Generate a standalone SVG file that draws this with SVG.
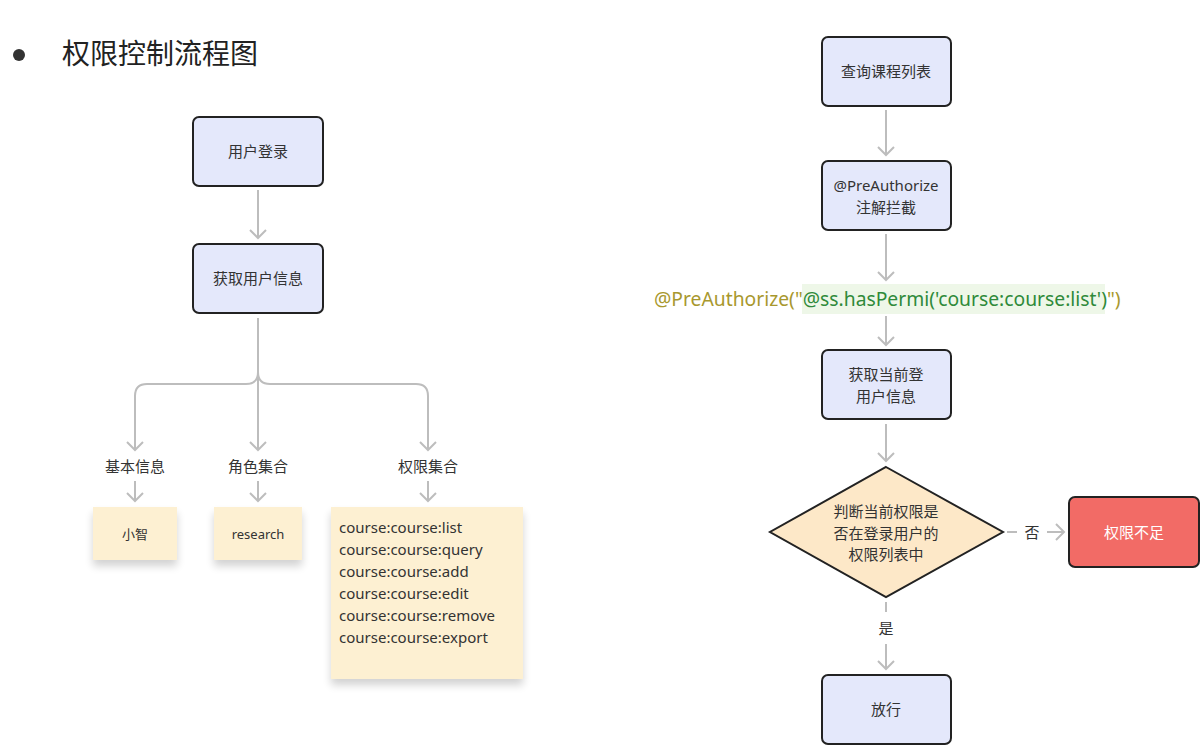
<svg xmlns="http://www.w3.org/2000/svg" width="1203" height="754" viewBox="0 0 1203 754">
<defs>
<style>
.t{font-family:"Noto Sans","Noto Sans CJK SC",sans-serif;fill:#333;font-size:15px;text-anchor:middle}
.node{fill:#e4e8fb;stroke:#222;stroke-width:2}
.note{fill:#fdf0d2}
.c{fill:none;stroke:#bdbdbd;stroke-width:2}
.d{fill:none;stroke:#bdbdbd;stroke-width:2;stroke-dasharray:10 6}
.code{font-family:"Noto Sans","Noto Sans CJK SC",sans-serif;font-size:19.3px}
</style>
<marker id="ar" viewBox="-1 -1 12 18" refX="9" refY="8" markerWidth="12" markerHeight="18" markerUnits="userSpaceOnUse" orient="auto">
<path d="M1,0 L9,8 L1,16" fill="none" stroke="#bdbdbd" stroke-width="2"/>
</marker>
<filter id="sh" x="-20%" y="-20%" width="140%" height="160%">
<feGaussianBlur in="SourceAlpha" stdDeviation="4"/>
<feOffset dx="0" dy="6" result="b"/>
<feComponentTransfer><feFuncA type="linear" slope="0.18"/></feComponentTransfer>
<feMerge><feMergeNode/><feMergeNode in="SourceGraphic"/></feMerge>
</filter>
</defs>
<rect width="1203" height="754" fill="#fff"/>

<g id="title">
<circle cx="19" cy="55" r="6" fill="#333"/>
<text x="62" y="64" style="font-family:'Noto Sans CJK SC','Noto Sans',sans-serif;font-size:28px;fill:#222">权限控制流程图</text>
</g>

<g id="connectors">
<line class="c" x1="258" y1="190" x2="258" y2="238" marker-end="url(#ar)"/>
<path class="c" d="M258,318 L258,450" marker-end="url(#ar)"/>
<path class="c" d="M258,372 Q258,384 246,384 L147,384 Q135,384 135,396 L135,450" marker-end="url(#ar)"/>
<path class="c" d="M258,372 Q258,384 270,384 L416,384 Q428,384 428,396 L428,450" marker-end="url(#ar)"/>
<line class="c" x1="135" y1="481" x2="135" y2="501" marker-end="url(#ar)"/>
<line class="c" x1="258" y1="481" x2="258" y2="501" marker-end="url(#ar)"/>
<line class="c" x1="428" y1="481" x2="428" y2="501" marker-end="url(#ar)"/>

<line class="c" x1="886" y1="110" x2="886" y2="155" marker-end="url(#ar)"/>
<line class="c" x1="886" y1="234" x2="886" y2="280" marker-end="url(#ar)"/>
<line class="c" x1="886" y1="316" x2="886" y2="345" marker-end="url(#ar)"/>
<line class="c" x1="886" y1="424" x2="886" y2="461" marker-end="url(#ar)"/>
<line class="d" x1="1007" y1="532" x2="1018" y2="532"/>
<text class="t" x="1032" y="538">否</text>
<line class="c" x1="1047" y1="532" x2="1064" y2="532" marker-end="url(#ar)"/>
<line class="d" x1="886" y1="602" x2="886" y2="614"/>
<text class="t" x="886" y="634">是</text>
<line class="c" x1="886" y1="644" x2="886" y2="669" marker-end="url(#ar)"/>
</g>

<g id="n-login">
<rect class="node" x="193" y="117" width="130" height="69" rx="6"/>
<text class="t" x="258" y="157">用户登录</text>
</g>
<g id="n-getuser">
<rect class="node" x="193" y="244" width="130" height="69" rx="6"/>
<text class="t" x="258" y="284">获取用户信息</text>
</g>
<g id="l-basic"><text class="t" x="135" y="472">基本信息</text></g>
<g id="l-role"><text class="t" x="258" y="472">角色集合</text></g>
<g id="l-perm"><text class="t" x="428" y="472">权限集合</text></g>
<g id="n-xiaozhi">
<rect class="note" x="93" y="507" width="84" height="53" filter="url(#sh)"/>
<text class="t" x="135" y="539" style="font-size:13px">小智</text>
</g>
<g id="n-research">
<rect class="note" x="214" y="507" width="88" height="53" filter="url(#sh)"/>
<text class="t" x="258" y="539" style="font-size:13px">research</text>
</g>
<g id="n-perms">
<rect class="note" x="331" y="507" width="192" height="172" filter="url(#sh)"/>
<text class="t" style="text-anchor:start;font-size:15px">
<tspan x="339" y="533">course:course:list</tspan>
<tspan x="339" y="555">course:course:query</tspan>
<tspan x="339" y="577">course:course:add</tspan>
<tspan x="339" y="599">course:course:edit</tspan>
<tspan x="339" y="621">course:course:remove</tspan>
<tspan x="339" y="643">course:course:export</tspan>
</text>
</g>

<g id="n-query">
<rect class="node" x="822" y="37" width="129" height="69" rx="6"/>
<text class="t" x="886" y="77">查询课程列表</text>
</g>
<g id="n-preauth">
<rect class="node" x="822" y="161" width="129" height="69" rx="6"/>
<text class="t" x="886" y="191">@PreAuthorize</text>
<text class="t" x="886" y="213">注解拦截</text>
</g>
<g id="code">
<rect x="802" y="284" width="303" height="30" fill="#eef7e8"/>
<text class="code" x="654" y="306"><tspan fill="#a8982e">@PreAuthorize("</tspan><tspan fill="#2f8a3a">@ss.hasPermi('course:course:list')</tspan><tspan fill="#a8982e">")</tspan></text>
</g>
<g id="n-current">
<rect class="node" x="822" y="350" width="129" height="69" rx="6"/>
<text class="t" x="886" y="380">获取当前登</text>
<text class="t" x="886" y="402">用户信息</text>
</g>
<g id="n-decide">
<polygon points="886,467 1003,532 886,597 770,532" fill="#fde8c8" stroke="#222" stroke-width="2"/>
<text class="t" x="886" y="517">判断当前权限是</text>
<text class="t" x="886" y="539">否在登录用户的</text>
<text class="t" x="886" y="560">权限列表中</text>
</g>
<g id="n-deny">
<rect x="1069" y="497" width="130" height="70" rx="6" fill="#f26b66" stroke="#222" stroke-width="2"/>
<text class="t" x="1134" y="538" style="fill:#fff">权限不足</text>
</g>
<g id="n-pass">
<rect class="node" x="822" y="675" width="129" height="69" rx="6"/>
<text class="t" x="886" y="715">放行</text>
</g>
</svg>
